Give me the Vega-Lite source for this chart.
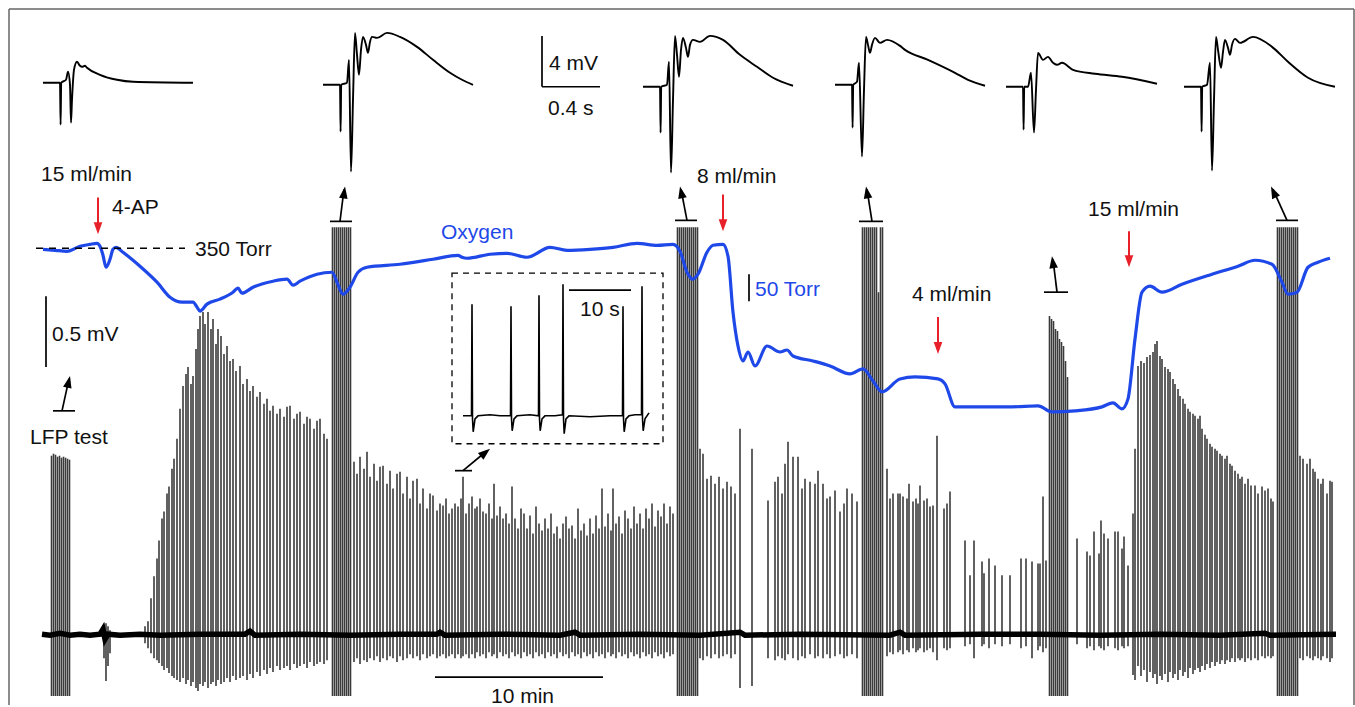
{
"$schema":"https://vega.github.io/schema/vega-lite/v6.json",
"width":1355,"height":707,"padding":0,
"autosize":{"type":"fit","contains":"padding"},
"background":"white",
"config":{"view":{"stroke":null}},
"datasets":{
"frame":[{"x":9,"y":9,"x2":1354,"y2":9},{"x":9,"y":9,"x2":9,"y2":707},{"x":1354,"y":9,"x2":1354,"y2":707}],
"spikes":[
{"x":51.5,"t":457,"b":698},{"x":53.5,"t":455,"b":698},{"x":55.5,"t":456,"b":698},{"x":57.5,"t":458,"b":698},{"x":59.5,"t":457,"b":698},{"x":61.5,"t":459,"b":698},{"x":63.5,"t":458,"b":698},{"x":65.5,"t":459,"b":698},{"x":67.5,"t":460,"b":698},{"x":69.5,"t":461,"b":698},
{"x":104,"t":628,"b":660},{"x":106,"t":625,"b":683},{"x":108,"t":628,"b":668},{"x":110,"t":632,"b":655},
{"x":145,"t":628,"b":645},{"x":148,"t":623,"b":650},{"x":151,"t":600,"b":655},{"x":154,"t":578,"b":660},{"x":157,"t":560,"b":662},{"x":159,"t":542,"b":665},{"x":162,"t":520,"b":668},{"x":164,"t":513,"b":672},{"x":167,"t":495,"b":670},{"x":169,"t":488,"b":675},{"x":172,"t":470,"b":678},{"x":174,"t":460,"b":680},{"x":177,"t":440,"b":682},{"x":180,"t":410,"b":684},{"x":183,"t":387,"b":680},{"x":186,"t":375,"b":686},{"x":188,"t":368,"b":682},{"x":191,"t":385,"b":688},{"x":193,"t":377,"b":684},{"x":196,"t":350,"b":690},{"x":198,"t":330,"b":693},{"x":200,"t":317,"b":686},{"x":203,"t":313,"b":688},{"x":205,"t":325,"b":684},{"x":208,"t":313,"b":690},{"x":211,"t":330,"b":686},{"x":213,"t":320,"b":684},{"x":216,"t":345,"b":688},{"x":218,"t":330,"b":682},{"x":221,"t":337,"b":686},{"x":224,"t":355,"b":684},{"x":227,"t":347,"b":680},{"x":230,"t":362,"b":684},{"x":233,"t":360,"b":678},{"x":236,"t":372,"b":682},{"x":240,"t":367,"b":680},{"x":243,"t":385,"b":678},{"x":247,"t":380,"b":682},{"x":250,"t":392,"b":676},{"x":253,"t":387,"b":680},{"x":257,"t":398,"b":674},{"x":260,"t":393,"b":678},{"x":264,"t":405,"b":672},{"x":267,"t":400,"b":676},{"x":270,"t":412,"b":670},{"x":273,"t":407,"b":674},{"x":277,"t":415,"b":668},{"x":280,"t":410,"b":672},{"x":284,"t":418,"b":670},{"x":287,"t":408,"b":668},{"x":290,"t":407,"b":672},{"x":294,"t":420,"b":666},{"x":297,"t":415,"b":670},{"x":300,"t":413,"b":668},{"x":304,"t":425,"b":666},{"x":307,"t":418,"b":670},{"x":310,"t":420,"b":664},{"x":314,"t":430,"b":668},{"x":317,"t":422,"b":666},{"x":320,"t":420,"b":664},{"x":324,"t":435,"b":666},{"x":327,"t":440,"b":662},
{"x":332.5,"t":228,"b":698},{"x":334.5,"t":228,"b":698},{"x":336.5,"t":228,"b":698},{"x":338.5,"t":228,"b":698},{"x":340.5,"t":228,"b":698},{"x":342.5,"t":228,"b":698},{"x":344.5,"t":228,"b":698},{"x":346.5,"t":228,"b":698},{"x":348.5,"t":228,"b":698},{"x":350.5,"t":228,"b":698},
{"x":354,"t":463,"b":664},{"x":357,"t":475,"b":660},{"x":360,"t":458,"b":666},{"x":364,"t":470,"b":662},{"x":367,"t":453,"b":664},{"x":370,"t":478,"b":660},{"x":374,"t":465,"b":662},{"x":377,"t":482,"b":658},{"x":380,"t":468,"b":664},{"x":383,"t":467,"b":660},{"x":387,"t":485,"b":662},{"x":390,"t":472,"b":658},{"x":393,"t":490,"b":660},{"x":397,"t":475,"b":664},{"x":400,"t":473,"b":658},{"x":403,"t":495,"b":662},{"x":407,"t":478,"b":660},{"x":410,"t":500,"b":656},{"x":413,"t":482,"b":660},{"x":417,"t":480,"b":658},{"x":420,"t":505,"b":662},{"x":423,"t":490,"b":656},{"x":427,"t":510,"b":660},{"x":430,"t":495,"b":658},{"x":433,"t":497,"b":656},{"x":437,"t":512,"b":660},{"x":440,"t":505,"b":658},{"x":443,"t":507,"b":656},{"x":446,"t":500,"b":660},{"x":449,"t":515,"b":658},{"x":452,"t":510,"b":656},{"x":455,"t":505,"b":660},{"x":458,"t":508,"b":656},{"x":461,"t":500,"b":660},{"x":463,"t":478,"b":658},{"x":466,"t":515,"b":656},{"x":469,"t":505,"b":660},{"x":472,"t":498,"b":656},{"x":475,"t":510,"b":660},{"x":477,"t":508,"b":654},{"x":480,"t":500,"b":658},{"x":483,"t":513,"b":656},{"x":486,"t":515,"b":660},{"x":489,"t":505,"b":654},{"x":492,"t":520,"b":658},{"x":494,"t":485,"b":656},{"x":497,"t":517,"b":660},{"x":500,"t":508,"b":654},{"x":503,"t":520,"b":658},{"x":506,"t":515,"b":656},{"x":509,"t":525,"b":660},{"x":512,"t":488,"b":654},{"x":515,"t":520,"b":658},{"x":518,"t":530,"b":656},{"x":521,"t":510,"b":660},{"x":524,"t":515,"b":654},{"x":527,"t":530,"b":658},{"x":530,"t":517,"b":656},{"x":533,"t":535,"b":660},{"x":536,"t":508,"b":654},{"x":539,"t":525,"b":658},{"x":542,"t":532,"b":656},{"x":545,"t":520,"b":660},{"x":548,"t":530,"b":654},{"x":551,"t":515,"b":658},{"x":554,"t":535,"b":656},{"x":557,"t":528,"b":660},{"x":560,"t":540,"b":654},{"x":563,"t":525,"b":658},{"x":566,"t":518,"b":656},{"x":569,"t":530,"b":660},{"x":572,"t":527,"b":654},{"x":575,"t":540,"b":658},{"x":578,"t":510,"b":656},{"x":581,"t":532,"b":660},{"x":584,"t":525,"b":654},{"x":587,"t":537,"b":658},{"x":590,"t":520,"b":656},{"x":593,"t":535,"b":660},{"x":596,"t":517,"b":654},{"x":599,"t":530,"b":658},{"x":602,"t":490,"b":656},{"x":605,"t":528,"b":660},{"x":608,"t":515,"b":654},{"x":611,"t":532,"b":658},{"x":613,"t":490,"b":656},{"x":616,"t":525,"b":660},{"x":619,"t":518,"b":654},{"x":622,"t":535,"b":658},{"x":625,"t":512,"b":656},{"x":628,"t":520,"b":660},{"x":631,"t":530,"b":654},{"x":634,"t":508,"b":658},{"x":637,"t":525,"b":656},{"x":640,"t":515,"b":660},{"x":643,"t":530,"b":654},{"x":646,"t":510,"b":658},{"x":649,"t":520,"b":656},{"x":652,"t":505,"b":660},{"x":655,"t":528,"b":654},{"x":658,"t":512,"b":658},{"x":661,"t":518,"b":656},{"x":664,"t":505,"b":660},{"x":667,"t":525,"b":654},{"x":670,"t":508,"b":658},{"x":673,"t":515,"b":656},
{"x":677.5,"t":228,"b":698},{"x":679.5,"t":228,"b":698},{"x":681.5,"t":228,"b":698},{"x":683.5,"t":228,"b":698},{"x":685.5,"t":228,"b":698},{"x":687.5,"t":228,"b":698},{"x":689.5,"t":228,"b":698},{"x":691.5,"t":228,"b":698},{"x":693.5,"t":228,"b":698},{"x":695.5,"t":228,"b":698},{"x":697.5,"t":228,"b":698},
{"x":700,"t":450,"b":660},{"x":703,"t":455,"b":662},{"x":707,"t":480,"b":658},{"x":711,"t":477,"b":660},{"x":715,"t":485,"b":656},{"x":719,"t":478,"b":660},{"x":723,"t":490,"b":658},{"x":727,"t":483,"b":656},{"x":731,"t":488,"b":660},{"x":735,"t":495,"b":656},{"x":740,"t":430,"b":690},{"x":752,"t":450,"b":688},
{"x":768,"t":502,"b":660},{"x":775,"t":483,"b":662},{"x":778,"t":478,"b":658},{"x":782,"t":495,"b":660},{"x":785,"t":465,"b":662},{"x":788,"t":443,"b":656},{"x":793,"t":458,"b":660},{"x":798,"t":458,"b":662},{"x":802,"t":490,"b":658},{"x":805,"t":480,"b":660},{"x":810,"t":483,"b":656},{"x":815,"t":485,"b":660},{"x":818,"t":472,"b":658},{"x":823,"t":485,"b":660},{"x":827,"t":500,"b":656},{"x":830,"t":498,"b":660},{"x":835,"t":492,"b":658},{"x":840,"t":513,"b":656},{"x":844,"t":505,"b":660},{"x":847,"t":490,"b":658},{"x":852,"t":495,"b":656},{"x":857,"t":503,"b":660},
{"x":862.5,"t":228,"b":698},{"x":864.5,"t":228,"b":698},{"x":866.5,"t":228,"b":698},{"x":868.5,"t":228,"b":698},{"x":870.5,"t":228,"b":698},{"x":872.5,"t":228,"b":698},{"x":874.5,"t":228,"b":698},{"x":876.5,"t":228,"b":698},{"x":878.5,"t":293,"b":698},{"x":880.5,"t":228,"b":698},{"x":882.5,"t":228,"b":698},
{"x":887,"t":470,"b":658},{"x":890,"t":500,"b":654},{"x":893,"t":495,"b":656},{"x":898,"t":495,"b":654},{"x":900,"t":495,"b":652},{"x":903,"t":498,"b":656},{"x":907,"t":500,"b":652},{"x":909,"t":485,"b":654},{"x":913,"t":503,"b":650},{"x":916,"t":500,"b":654},{"x":918,"t":505,"b":652},{"x":920,"t":487,"b":650},{"x":924,"t":502,"b":654},{"x":927,"t":500,"b":652},{"x":930,"t":508,"b":650},{"x":933,"t":507,"b":654},{"x":937,"t":437,"b":662},{"x":944,"t":510,"b":650},{"x":947,"t":505,"b":652},{"x":950,"t":493,"b":650},
{"x":965,"t":542,"b":648},{"x":970,"t":577,"b":646},{"x":974,"t":542,"b":660},{"x":982,"t":563,"b":648},{"x":984,"t":575,"b":646},{"x":989,"t":560,"b":650},{"x":995,"t":567,"b":646},{"x":1002,"t":577,"b":648},{"x":1010,"t":577,"b":646},{"x":1021,"t":560,"b":650},{"x":1026,"t":560,"b":648},{"x":1032,"t":563,"b":660},{"x":1038,"t":565,"b":652},{"x":1040,"t":565,"b":648},{"x":1043,"t":498,"b":654},{"x":1046,"t":562,"b":650},
{"x":1049.5,"t":317,"b":698},{"x":1051.5,"t":320,"b":698},{"x":1053.5,"t":322,"b":698},{"x":1055.5,"t":330,"b":698},{"x":1057.5,"t":332,"b":698},{"x":1059.5,"t":340,"b":698},{"x":1061.5,"t":343,"b":698},{"x":1063.5,"t":347,"b":698},{"x":1065.5,"t":362,"b":698},{"x":1067.5,"t":378,"b":698},
{"x":1077,"t":540,"b":646},{"x":1087,"t":553,"b":650},{"x":1090,"t":557,"b":648},{"x":1094,"t":533,"b":652},{"x":1099,"t":555,"b":648},{"x":1101,"t":522,"b":650},{"x":1104,"t":535,"b":652},{"x":1108,"t":540,"b":648},{"x":1115,"t":533,"b":650},{"x":1118,"t":533,"b":652},{"x":1122,"t":550,"b":648},{"x":1124,"t":538,"b":650},{"x":1128,"t":567,"b":648},{"x":1133,"t":515,"b":677},{"x":1135,"t":450,"b":682},
{"x":1138,"t":367,"b":668},{"x":1141,"t":362,"b":678},{"x":1144,"t":364,"b":672},{"x":1147,"t":358,"b":684},{"x":1150,"t":356,"b":674},{"x":1153,"t":353,"b":680},{"x":1155,"t":345,"b":676},{"x":1157,"t":342,"b":686},{"x":1160,"t":357,"b":678},{"x":1162,"t":360,"b":682},{"x":1165,"t":368,"b":676},{"x":1168,"t":370,"b":684},{"x":1170,"t":373,"b":674},{"x":1173,"t":380,"b":680},{"x":1175,"t":385,"b":676},{"x":1178,"t":390,"b":682},{"x":1180,"t":397,"b":672},{"x":1183,"t":400,"b":678},{"x":1185,"t":405,"b":674},{"x":1188,"t":410,"b":680},{"x":1190,"t":413,"b":670},{"x":1193,"t":415,"b":676},{"x":1195,"t":417,"b":672},{"x":1198,"t":420,"b":670},{"x":1200,"t":417,"b":674},{"x":1202,"t":430,"b":668},{"x":1205,"t":436,"b":672},{"x":1207,"t":440,"b":666},{"x":1210,"t":445,"b":670},{"x":1212,"t":448,"b":664},{"x":1215,"t":450,"b":668},{"x":1217,"t":452,"b":664},{"x":1220,"t":455,"b":666},{"x":1222,"t":457,"b":662},{"x":1225,"t":460,"b":666},{"x":1227,"t":457,"b":662},{"x":1230,"t":465,"b":664},{"x":1232,"t":467,"b":660},{"x":1235,"t":472,"b":664},{"x":1238,"t":475,"b":660},{"x":1240,"t":480,"b":662},{"x":1242,"t":478,"b":660},{"x":1245,"t":485,"b":664},{"x":1248,"t":480,"b":660},{"x":1251,"t":487,"b":662},{"x":1255,"t":487,"b":660},{"x":1258,"t":495,"b":662},{"x":1262,"t":488,"b":658},{"x":1265,"t":492,"b":660},{"x":1268,"t":490,"b":658},{"x":1271,"t":500,"b":660},{"x":1273,"t":503,"b":658},
{"x":1277.5,"t":228,"b":698},{"x":1279.5,"t":228,"b":698},{"x":1281.5,"t":228,"b":698},{"x":1283.5,"t":228,"b":698},{"x":1285.5,"t":228,"b":698},{"x":1287.5,"t":228,"b":698},{"x":1289.5,"t":228,"b":698},{"x":1291.5,"t":228,"b":698},{"x":1293.5,"t":228,"b":698},{"x":1295.5,"t":228,"b":698},{"x":1297.5,"t":228,"b":698},
{"x":1300,"t":457,"b":660},{"x":1303,"t":460,"b":662},{"x":1307,"t":465,"b":658},{"x":1310,"t":460,"b":660},{"x":1313,"t":470,"b":662},{"x":1315,"t":473,"b":658},{"x":1318,"t":480,"b":660},{"x":1321,"t":485,"b":662},{"x":1323,"t":480,"b":658},{"x":1327,"t":495,"b":660},{"x":1330,"t":482,"b":664},{"x":1332,"t":483,"b":660}
],
"baseline":[{"x":42,"y":636},{"x":50,"y":637},{"x":60,"y":635},{"x":70,"y":637},{"x":80,"y":636},{"x":90,"y":637},{"x":100,"y":636},{"x":103,"y":631},{"x":105,"y":641},{"x":108,"y":636},{"x":120,"y":637},{"x":140,"y":636},{"x":160,"y":637},{"x":200,"y":636},{"x":245,"y":636},{"x":250,"y":633},{"x":255,"y":637},{"x":300,"y":636},{"x":350,"y":637},{"x":400,"y":636},{"x":437,"y":636},{"x":440,"y":634},{"x":445,"y":637},{"x":500,"y":636},{"x":560,"y":637},{"x":575,"y":634},{"x":580,"y":637},{"x":640,"y":636},{"x":700,"y":637},{"x":740,"y":634},{"x":745,"y":637},{"x":800,"y":636},{"x":890,"y":637},{"x":900,"y":634},{"x":905,"y":637},{"x":980,"y":636},{"x":1040,"y":636},{"x":1100,"y":637},{"x":1160,"y":636},{"x":1220,"y":637},{"x":1265,"y":635},{"x":1270,"y":637},{"x":1336,"y":636}],
"oxygen":[{"x":43,"y":250},{"x":55,"y":251},{"x":67,"y":252},{"x":80,"y":247},{"x":90,"y":245},{"x":97,"y":244},{"x":100,"y":247},{"x":103,"y":256},{"x":106,"y":268},{"x":110,"y":260},{"x":113,"y":250},{"x":116,"y":248},{"x":123,"y":253},{"x":140,"y":267},{"x":157,"y":283},{"x":170,"y":298},{"x":182,"y":303},{"x":193,"y":303},{"x":197,"y":308},{"x":200,"y":312},{"x":207,"y":305},{"x":220,"y":300},{"x":233,"y":293},{"x":238,"y":289},{"x":242,"y":294},{"x":253,"y":288},{"x":273,"y":282},{"x":287,"y":280},{"x":293,"y":286},{"x":300,"y":282},{"x":317,"y":275},{"x":332,"y":273},{"x":337,"y":283},{"x":343,"y":295},{"x":350,"y":288},{"x":358,"y":273},{"x":367,"y":268},{"x":400,"y":265},{"x":433,"y":260},{"x":458,"y":256},{"x":462,"y":258},{"x":467,"y":259},{"x":490,"y":255},{"x":507,"y":254},{"x":527,"y":258},{"x":550,"y":248},{"x":567,"y":251},{"x":590,"y":250},{"x":613,"y":248},{"x":637,"y":244},{"x":657,"y":246},{"x":673,"y":245},{"x":680,"y":252},{"x":687,"y":273},{"x":693,"y":280},{"x":698,"y":275},{"x":707,"y":253},{"x":713,"y":246},{"x":723,"y":245},{"x":728,"y":257},{"x":733,"y":313},{"x":738,"y":347},{"x":743,"y":362},{"x":748,"y":353},{"x":755,"y":367},{"x":767,"y":347},{"x":780,"y":353},{"x":787,"y":351},{"x":793,"y":357},{"x":813,"y":362},{"x":830,"y":367},{"x":850,"y":375},{"x":863,"y":370},{"x":873,"y":382},{"x":882,"y":393},{"x":900,"y":380},{"x":915,"y":378},{"x":938,"y":380},{"x":945,"y":385},{"x":955,"y":408},{"x":978,"y":408},{"x":1012,"y":408},{"x":1038,"y":407},{"x":1052,"y":413},{"x":1075,"y":412},{"x":1102,"y":408},{"x":1113,"y":404},{"x":1122,"y":410},{"x":1128,"y":400},{"x":1135,"y":340},{"x":1142,"y":293},{"x":1150,"y":287},{"x":1162,"y":293},{"x":1182,"y":285},{"x":1212,"y":275},{"x":1238,"y":267},{"x":1255,"y":261},{"x":1272,"y":265},{"x":1282,"y":283},{"x":1288,"y":295},{"x":1297,"y":293},{"x":1308,"y":268},{"x":1318,"y":263},{"x":1330,"y":259}],
"evoked":[
{"tr":1,"x":43,"y":83},{"tr":1,"x":60,"y":83},{"tr":1,"x":60.6,"y":125},{"tr":1,"x":61.2,"y":83},{"tr":1,"x":66,"y":80},{"tr":1,"x":68,"y":72},{"tr":1,"x":70,"y":85},{"tr":1,"x":71,"y":123},{"tr":1,"x":72,"y":100},{"tr":1,"x":74,"y":70},{"tr":1,"x":77,"y":62},{"tr":1,"x":80,"y":66},{"tr":1,"x":82,"y":67},{"tr":1,"x":85,"y":66},{"tr":1,"x":87,"y":68},{"tr":1,"x":100,"y":75},{"tr":1,"x":117,"y":80},{"tr":1,"x":133,"y":82},{"tr":1,"x":193,"y":83},
{"tr":2,"x":323,"y":85},{"tr":2,"x":340,"y":85},{"tr":2,"x":340.6,"y":132},{"tr":2,"x":341.2,"y":85},{"tr":2,"x":347,"y":83},{"tr":2,"x":349,"y":60},{"tr":2,"x":351,"y":172},{"tr":2,"x":353,"y":100},{"tr":2,"x":355,"y":33},{"tr":2,"x":357,"y":55},{"tr":2,"x":359,"y":75},{"tr":2,"x":361,"y":50},{"tr":2,"x":363,"y":37},{"tr":2,"x":366,"y":45},{"tr":2,"x":368,"y":53},{"tr":2,"x":370,"y":42},{"tr":2,"x":372,"y":37},{"tr":2,"x":377,"y":38},{"tr":2,"x":387,"y":33},{"tr":2,"x":400,"y":37},{"tr":2,"x":417,"y":47},{"tr":2,"x":433,"y":60},{"tr":2,"x":450,"y":73},{"tr":2,"x":462,"y":80},{"tr":2,"x":473,"y":85},
{"tr":3,"x":643,"y":87},{"tr":3,"x":660,"y":87},{"tr":3,"x":660.6,"y":133},{"tr":3,"x":661.2,"y":87},{"tr":3,"x":667,"y":85},{"tr":3,"x":669,"y":62},{"tr":3,"x":671,"y":173},{"tr":3,"x":673,"y":100},{"tr":3,"x":675,"y":36},{"tr":3,"x":677,"y":55},{"tr":3,"x":679,"y":77},{"tr":3,"x":681,"y":50},{"tr":3,"x":683,"y":38},{"tr":3,"x":686,"y":48},{"tr":3,"x":688,"y":57},{"tr":3,"x":690,"y":45},{"tr":3,"x":693,"y":40},{"tr":3,"x":700,"y":42},{"tr":3,"x":710,"y":36},{"tr":3,"x":723,"y":40},{"tr":3,"x":740,"y":55},{"tr":3,"x":757,"y":67},{"tr":3,"x":773,"y":78},{"tr":3,"x":793,"y":86},
{"tr":4,"x":835,"y":85},{"tr":4,"x":852,"y":85},{"tr":4,"x":852.6,"y":128},{"tr":4,"x":853.2,"y":85},{"tr":4,"x":857,"y":82},{"tr":4,"x":859,"y":63},{"tr":4,"x":862,"y":157},{"tr":4,"x":864,"y":90},{"tr":4,"x":866,"y":37},{"tr":4,"x":868,"y":45},{"tr":4,"x":870,"y":53},{"tr":4,"x":872,"y":45},{"tr":4,"x":875,"y":38},{"tr":4,"x":880,"y":43},{"tr":4,"x":887,"y":40},{"tr":4,"x":900,"y":46},{"tr":4,"x":905,"y":50},{"tr":4,"x":928,"y":60},{"tr":4,"x":955,"y":73},{"tr":4,"x":968,"y":80},{"tr":4,"x":985,"y":86},
{"tr":5,"x":1006,"y":87},{"tr":5,"x":1023,"y":87},{"tr":5,"x":1023.6,"y":130},{"tr":5,"x":1024.2,"y":87},{"tr":5,"x":1028,"y":87},{"tr":5,"x":1031,"y":73},{"tr":5,"x":1034,"y":133},{"tr":5,"x":1036,"y":90},{"tr":5,"x":1038,"y":53},{"tr":5,"x":1043,"y":60},{"tr":5,"x":1048,"y":57},{"tr":5,"x":1053,"y":63},{"tr":5,"x":1057,"y":65},{"tr":5,"x":1062,"y":63},{"tr":5,"x":1073,"y":70},{"tr":5,"x":1095,"y":74},{"tr":5,"x":1122,"y":77},{"tr":5,"x":1157,"y":84},
{"tr":6,"x":1184,"y":87},{"tr":6,"x":1201,"y":87},{"tr":6,"x":1201.6,"y":132},{"tr":6,"x":1202.2,"y":87},{"tr":6,"x":1207,"y":85},{"tr":6,"x":1210,"y":63},{"tr":6,"x":1212,"y":171},{"tr":6,"x":1214,"y":100},{"tr":6,"x":1216,"y":37},{"tr":6,"x":1218,"y":50},{"tr":6,"x":1221,"y":68},{"tr":6,"x":1223,"y":52},{"tr":6,"x":1225,"y":40},{"tr":6,"x":1228,"y":48},{"tr":6,"x":1230,"y":55},{"tr":6,"x":1232,"y":45},{"tr":6,"x":1235,"y":39},{"tr":6,"x":1240,"y":43},{"tr":6,"x":1253,"y":37},{"tr":6,"x":1272,"y":47},{"tr":6,"x":1288,"y":62},{"tr":6,"x":1308,"y":78},{"tr":6,"x":1335,"y":87}
],
"inset":[{"x":463,"y":417},{"x":471.5,"y":417},{"x":472,"y":305},{"x":472.5,"y":420},{"x":473.2,"y":433},{"x":475,"y":420},{"x":478,"y":417},{"x":490,"y":416},{"x":500,"y":417},{"x":510.5,"y":417},{"x":511,"y":307},{"x":511.5,"y":420},{"x":512.2,"y":432},{"x":514,"y":420},{"x":517,"y":417},{"x":530,"y":416},{"x":538.5,"y":417},{"x":539,"y":296},{"x":539.5,"y":420},{"x":540.2,"y":432},{"x":542,"y":420},{"x":545,"y":417},{"x":555,"y":417},{"x":562.5,"y":416},{"x":563,"y":285},{"x":563.5,"y":420},{"x":564.2,"y":435},{"x":566,"y":420},{"x":569,"y":417},{"x":590,"y":418},{"x":610,"y":417},{"x":622.5,"y":417},{"x":623,"y":307},{"x":623.5,"y":420},{"x":624.2,"y":433},{"x":626,"y":420},{"x":629,"y":417},{"x":635,"y":416},{"x":641.5,"y":416},{"x":642,"y":287},{"x":642.5,"y":420},{"x":643.2,"y":432},{"x":645,"y":420},{"x":649,"y":414}],
"box":[{"x":452,"y":274,"x2":663,"y2":445}],
"dash":[{"x":36,"y":249,"x2":185,"y2":249}],
"blackrules":[
{"x":542,"y":36,"x2":542,"y2":87},{"x":542,"y":87,"x2":600,"y2":87},{"x":46,"y":297,"x2":46,"y2":368},{"x":749,"y":275,"x2":749,"y2":302},{"x":569,"y":291,"x2":631,"y2":291},{"x":435,"y":679,"x2":603,"y2":679},
{"x":53,"y":412,"x2":75,"y2":412},{"x":330,"y":222,"x2":352,"y2":222},{"x":675,"y":221,"x2":697,"y2":221},{"x":859,"y":222,"x2":883,"y2":222},{"x":1044,"y":293,"x2":1068,"y2":293},{"x":1276,"y":221,"x2":1298,"y2":221},{"x":455,"y":472,"x2":472,"y2":472},
{"x":62,"y":412,"x2":69,"y2":380},{"x":340,"y":222,"x2":344,"y2":190},{"x":687,"y":221,"x2":681,"y2":190},{"x":872,"y":222,"x2":867,"y2":190},{"x":1057,"y":293,"x2":1053,"y2":260},{"x":1287,"y":221,"x2":1273,"y2":190},{"x":463,"y":472,"x2":487,"y2":452}],
"blackheads":[{"x":70,"y":377,"a":193},{"x":345,"y":187,"a":188},{"x":680,"y":187,"a":168},{"x":866,"y":187,"a":170},{"x":1052,"y":257,"a":172},{"x":1271,"y":187,"a":155},{"x":490,"y":450,"a":231}],
"redrules":[{"x":98,"y":198,"x2":98,"y2":225},{"x":723,"y":195,"x2":723,"y2":222},{"x":938,"y":318,"x2":938,"y2":345},{"x":1129,"y":232,"x2":1129,"y2":258}],
"redheads":[{"x":98,"y":235},{"x":723,"y":232},{"x":938,"y":355},{"x":1129,"y":268}],
"blacktext":[{"x":41,"y":182,"label":"15 ml/min"},{"x":112,"y":215,"label":"4-AP"},{"x":195,"y":257,"label":"350 Torr"},{"x":52,"y":342,"label":"0.5 mV"},{"x":30,"y":445,"label":"LFP test"},{"x":549,"y":70,"label":"4 mV"},{"x":548,"y":115,"label":"0.4 s"},{"x":697,"y":184,"label":"8 ml/min"},{"x":912,"y":302,"label":"4 ml/min"},{"x":1088,"y":217,"label":"15 ml/min"},{"x":580,"y":317,"label":"10 s"},{"x":491,"y":705,"label":"10 min"}],
"bluetext":[{"x":441,"y":240,"label":"Oxygen"},{"x":755,"y":297,"label":"50 Torr"}]
},
"layer":[
{"data":{"name":"frame"},"mark":{"type":"rule","color":"#666666","strokeWidth":1.5},
 "encoding":{"x":{"field":"x","type":"quantitative","scale":{"domain":[0,1355],"nice":false,"zero":false},"axis":null},"y":{"field":"y","type":"quantitative","scale":{"domain":[0,707],"nice":false,"zero":false,"reverse":true},"axis":null},"x2":{"field":"x2"},"y2":{"field":"y2"}}},
{"data":{"name":"spikes"},"mark":{"type":"rule","color":"#3a3a3a","strokeWidth":1.6},
 "encoding":{"x":{"field":"x","type":"quantitative","scale":{"domain":[0,1355],"nice":false,"zero":false},"axis":null},"y":{"field":"t","type":"quantitative","scale":{"domain":[0,707],"nice":false,"zero":false,"reverse":true},"axis":null},"y2":{"field":"b"}}},
{"data":{"name":"baseline"},"mark":{"type":"line","color":"#000000","strokeWidth":5.5},
 "encoding":{"x":{"field":"x","type":"quantitative","scale":{"domain":[0,1355],"nice":false,"zero":false},"axis":null},"y":{"field":"y","type":"quantitative","scale":{"domain":[0,707],"nice":false,"zero":false,"reverse":true},"axis":null}}},
{"data":{"name":"oxygen"},"mark":{"type":"line","color":"#1f48e8","strokeWidth":3.2,"interpolate":"monotone"},
 "encoding":{"x":{"field":"x","type":"quantitative","scale":{"domain":[0,1355],"nice":false,"zero":false},"axis":null},"y":{"field":"y","type":"quantitative","scale":{"domain":[0,707],"nice":false,"zero":false,"reverse":true},"axis":null}}},
{"data":{"name":"dash"},"mark":{"type":"rule","color":"#000000","strokeWidth":1.5,"strokeDash":[7,6]},
 "encoding":{"x":{"field":"x","type":"quantitative","scale":{"domain":[0,1355],"nice":false,"zero":false},"axis":null},"y":{"field":"y","type":"quantitative","scale":{"domain":[0,707],"nice":false,"zero":false,"reverse":true},"axis":null},"x2":{"field":"x2"}}},
{"data":{"name":"evoked"},"mark":{"type":"line","color":"#000000","strokeWidth":1.9,"interpolate":"monotone"},
 "encoding":{"x":{"field":"x","type":"quantitative","scale":{"domain":[0,1355],"nice":false,"zero":false},"axis":null},"y":{"field":"y","type":"quantitative","scale":{"domain":[0,707],"nice":false,"zero":false,"reverse":true},"axis":null},"detail":{"field":"tr","type":"nominal"}}},
{"data":{"name":"inset"},"mark":{"type":"line","color":"#000000","strokeWidth":1.6},
 "encoding":{"x":{"field":"x","type":"quantitative","scale":{"domain":[0,1355],"nice":false,"zero":false},"axis":null},"y":{"field":"y","type":"quantitative","scale":{"domain":[0,707],"nice":false,"zero":false,"reverse":true},"axis":null}}},
{"data":{"name":"box"},"mark":{"type":"rect","fill":null,"fillOpacity":0,"stroke":"#000000","strokeWidth":1.3,"strokeDash":[6,5]},
 "encoding":{"x":{"field":"x","type":"quantitative","scale":{"domain":[0,1355],"nice":false,"zero":false},"axis":null},"y":{"field":"y","type":"quantitative","scale":{"domain":[0,707],"nice":false,"zero":false,"reverse":true},"axis":null},"x2":{"field":"x2"},"y2":{"field":"y2"}}},
{"data":{"name":"blackrules"},"mark":{"type":"rule","color":"#000000","strokeWidth":1.7},
 "encoding":{"x":{"field":"x","type":"quantitative","scale":{"domain":[0,1355],"nice":false,"zero":false},"axis":null},"y":{"field":"y","type":"quantitative","scale":{"domain":[0,707],"nice":false,"zero":false,"reverse":true},"axis":null},"x2":{"field":"x2"},"y2":{"field":"y2"}}},
{"data":{"name":"blackheads"},"mark":{"type":"point","shape":"M-0.36,-1L0.36,-1L0,0Z","filled":true,"size":576,"color":"#000000","opacity":1},
 "encoding":{"x":{"field":"x","type":"quantitative","scale":{"domain":[0,1355],"nice":false,"zero":false},"axis":null},"y":{"field":"y","type":"quantitative","scale":{"domain":[0,707],"nice":false,"zero":false,"reverse":true},"axis":null},"angle":{"field":"a","type":"quantitative","scale":null}}},
{"data":{"name":"redrules"},"mark":{"type":"rule","color":"#e8202a","strokeWidth":2},
 "encoding":{"x":{"field":"x","type":"quantitative","scale":{"domain":[0,1355],"nice":false,"zero":false},"axis":null},"y":{"field":"y","type":"quantitative","scale":{"domain":[0,707],"nice":false,"zero":false,"reverse":true},"axis":null},"x2":{"field":"x2"},"y2":{"field":"y2"}}},
{"data":{"name":"redheads"},"mark":{"type":"point","shape":"M-0.36,-1L0.36,-1L0,0Z","filled":true,"size":576,"color":"#e8202a","opacity":1},
 "encoding":{"x":{"field":"x","type":"quantitative","scale":{"domain":[0,1355],"nice":false,"zero":false},"axis":null},"y":{"field":"y","type":"quantitative","scale":{"domain":[0,707],"nice":false,"zero":false,"reverse":true},"axis":null}}},
{"data":{"name":"blacktext"},"mark":{"type":"text","align":"left","baseline":"alphabetic","fontSize":21,"font":"Liberation Sans","color":"#111111"},
 "encoding":{"x":{"field":"x","type":"quantitative","scale":{"domain":[0,1355],"nice":false,"zero":false},"axis":null},"y":{"field":"y","type":"quantitative","scale":{"domain":[0,707],"nice":false,"zero":false,"reverse":true},"axis":null},"text":{"field":"label"}}},
{"data":{"name":"bluetext"},"mark":{"type":"text","align":"left","baseline":"alphabetic","fontSize":21,"font":"Liberation Sans","color":"#1f48e8"},
 "encoding":{"x":{"field":"x","type":"quantitative","scale":{"domain":[0,1355],"nice":false,"zero":false},"axis":null},"y":{"field":"y","type":"quantitative","scale":{"domain":[0,707],"nice":false,"zero":false,"reverse":true},"axis":null},"text":{"field":"label"}}}
]
}
